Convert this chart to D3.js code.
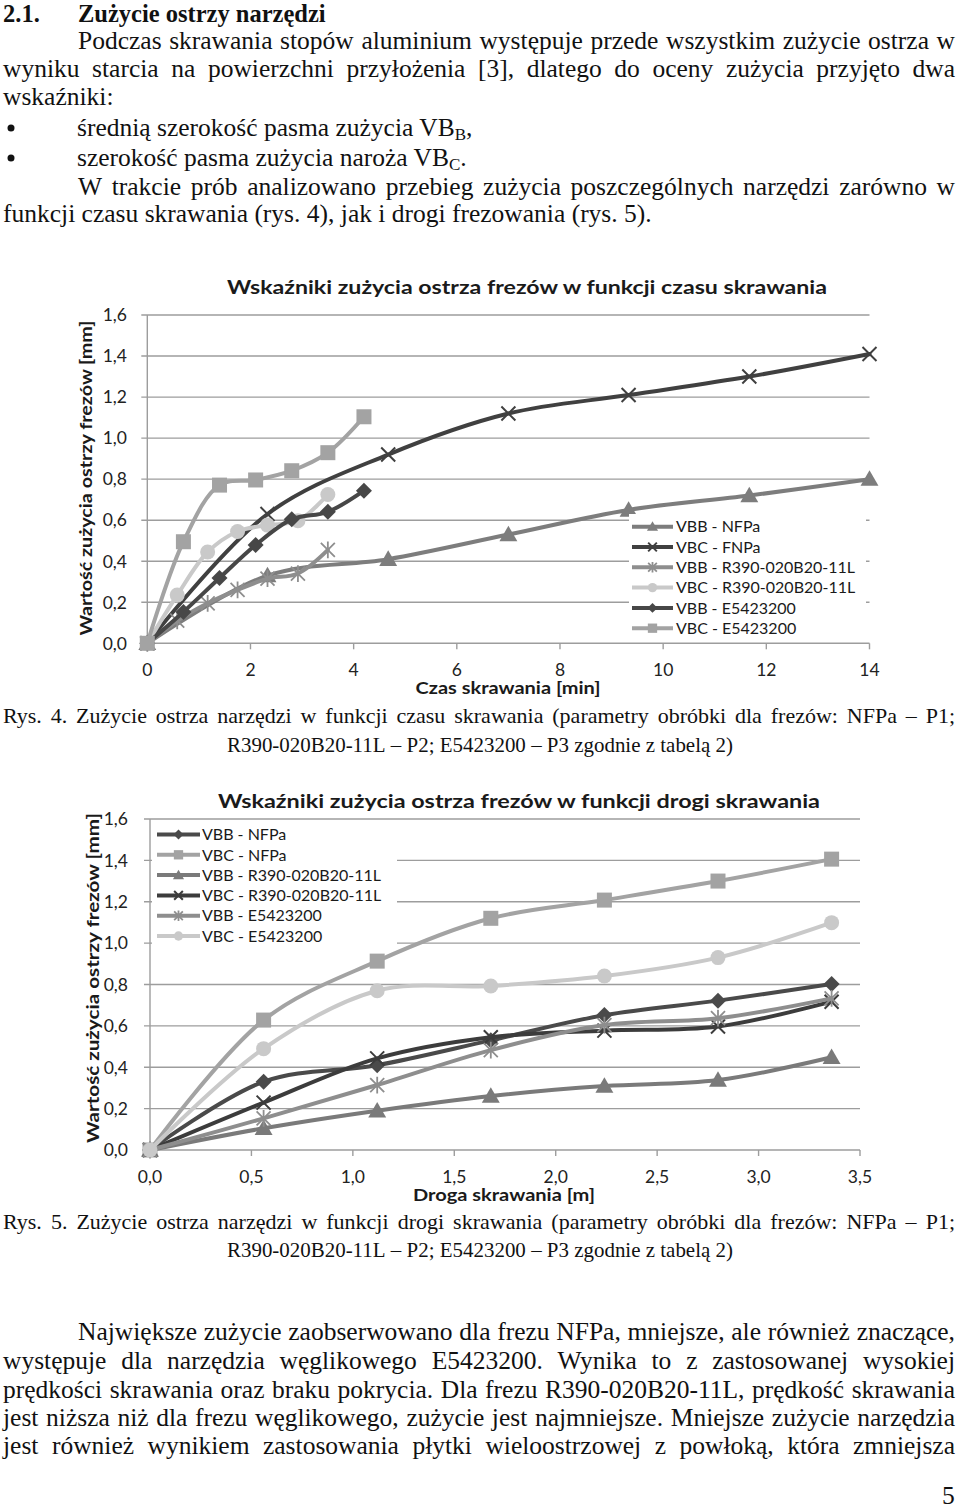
<!DOCTYPE html>
<html><head><meta charset="utf-8">
<script src="https://cdn.jsdelivr.net/npm/d3@7"></script>
<style>html,body{margin:0;padding:0;background:#fff}svg{display:block}</style>
</head><body>
<svg id="page" width="960" height="1509"></svg>
<script>
// ---------------- DATA ----------------
// Chart 1: wear vs cutting time [min]
const timeNFPa = [0, 2.33, 4.67, 7, 9.33, 11.67, 14];
const timeR390 = [0, 0.58, 1.17, 1.75, 2.33, 2.92, 3.5];
const timeE542 = [0, 0.7, 1.4, 2.1, 2.8, 3.5, 4.2];
const t_VBB_NFPa = [0, 0.33, 0.41, 0.53, 0.65, 0.72, 0.80];
const t_VBC_FNPa = [0, 0.63, 0.92, 1.12, 1.21, 1.30, 1.41];
const t_VBB_R390 = [0, 0.11, 0.195, 0.26, 0.315, 0.34, 0.455];
const t_VBC_R390 = [0, 0.235, 0.445, 0.545, 0.576, 0.597, 0.725];
const t_VBB_E542 = [0, 0.153, 0.318, 0.479, 0.604, 0.641, 0.744];
const t_VBC_E542 = [0, 0.495, 0.771, 0.796, 0.841, 0.929, 1.104];
const timeTicks = [0, 2, 4, 6, 8, 10, 12, 14];
const chart1Names = ["VBB - NFPa", "VBC - FNPa", "VBB - R390-020B20-11L", "VBC - R390-020B20-11L", "VBB - E5423200", "VBC - E5423200"];

// Chart 2: wear vs cutting distance [m]
const dist = [0, 0.56, 1.12, 1.68, 2.24, 2.80, 3.36];
const d_VBB_NFPa = [0, 0.33, 0.41, 0.53, 0.652, 0.722, 0.802];
const d_VBC_NFPa = [0, 0.628, 0.913, 1.12, 1.208, 1.30, 1.406];
const d_VBB_R390 = [0, 0.105, 0.19, 0.261, 0.309, 0.338, 0.448];
const d_VBC_R390 = [0, 0.229, 0.443, 0.545, 0.577, 0.597, 0.717];
const d_VBB_E542 = [0, 0.153, 0.314, 0.483, 0.604, 0.637, 0.733];
const d_VBC_E542 = [0, 0.49, 0.77, 0.793, 0.841, 0.93, 1.099];
const distTicks = [0, 0.5, 1.0, 1.5, 2.0, 2.5, 3.0, 3.5];
const chart2Names = ["VBB - NFPa", "VBC - NFPa", "VBB - R390-020B20-11L", "VBC - R390-020B20-11L", "VBB - E5423200", "VBC - E5423200"];

const wearTicks = [0, 0.2, 0.4, 0.6, 0.8, 1.0, 1.2, 1.4, 1.6];

// ---------------- TEXT HELPERS ----------------
const svg = d3.select("#page");
const SERIF = "'Liberation Serif','Times New Roman',serif";
const SANS = "Lato,'Open Sans',sans-serif";
const BODY = 25.5;
const CAP = 22;

function textLine(o) {
  const size = o.size || BODY;
  const g = svg.append("g");
  const words = o.t.split(" ");
  const items = words.map(w => {
    const t = g.append("text").attr("font-family", SERIF).attr("font-size", size)
      .attr("font-weight", o.bold ? "bold" : "normal").attr("fill", "#111").text(w);
    return {node: t, w: t.node().getComputedTextLength()};
  });
  const sum = d3.sum(items, d => d.w);
  const space = size * 0.25;
  let k = 1, gap = space, x0 = o.x0;
  if (o.mode === "justify") {
    const natural = sum + space * (items.length - 1);
    if (natural > o.x1 - o.x0) { k = (o.x1 - o.x0) / natural; }
    else gap = (o.x1 - o.x0 - sum) / Math.max(1, items.length - 1);
  } else if (o.mode === "fit") {
    k = (o.x1 - o.x0) / (sum + space * (items.length - 1));
  }
  g.attr("transform", `translate(${x0},${o.y}) scale(${k},1)`);
  let pos = 0;
  items.forEach(it => { it.node.attr("x", pos); pos += it.w + gap; });
}

// ---------------- BODY TEXT ----------------
textLine({t: "2.1.", x0: 3, y: 22, mode: "left", bold: true, size: 24.5});
textLine({t: "Zużycie ostrzy narzędzi", x0: 78, y: 22, mode: "left", bold: true, size: 24.5});
textLine({t: "Podczas skrawania stopów aluminium występuje przede wszystkim zużycie ostrza w", x0: 78, x1: 955, y: 49, mode: "justify"});
textLine({t: "wyniku starcia na powierzchni przyłożenia [3], dlatego do oceny zużycia przyjęto dwa", x0: 3, x1: 955, y: 77, mode: "justify"});
textLine({t: "wskaźniki:", x0: 3, y: 105, mode: "left"});

function bulletLine(main, sub, tail, y) {
  svg.append("circle").attr("cx", 11).attr("cy", y - 8).attr("r", 3.5).attr("fill", "#111");
  const t = svg.append("text").attr("x", 77).attr("y", y)
    .attr("font-family", SERIF).attr("font-size", BODY).attr("fill", "#111");
  t.append("tspan").text(main);
  t.append("tspan").attr("font-size", 17).attr("dy", 4).text(sub);
  t.append("tspan").attr("dy", -4).text(tail);
}
bulletLine("średnią szerokość pasma zużycia VB", "B", ",", 136);
bulletLine("szerokość pasma zużycia naroża VB", "C", ".", 166);
textLine({t: "W trakcie prób analizowano przebieg zużycia poszczególnych narzędzi zarówno w", x0: 78, x1: 955, y: 195, mode: "justify"});
textLine({t: "funkcji czasu skrawania (rys. 4), jak i drogi frezowania (rys. 5).", x0: 3, y: 222, mode: "left"});

textLine({t: "Rys. 4. Zużycie ostrza narzędzi w funkcji czasu skrawania (parametry obróbki dla frezów: NFPa – P1;", x0: 3, x1: 955, y: 723, mode: "justify", size: CAP});
textLine({t: "R390-020B20-11L – P2; E5423200 – P3 zgodnie z tabelą 2)", x0: 227, x1: 733, y: 752, mode: "fit", size: CAP});
textLine({t: "Rys. 5. Zużycie ostrza narzędzi w funkcji drogi skrawania (parametry obróbki dla frezów: NFPa – P1;", x0: 3, x1: 955, y: 1229, mode: "justify", size: CAP});
textLine({t: "R390-020B20-11L – P2; E5423200 – P3 zgodnie z tabelą 2)", x0: 227, x1: 733, y: 1257, mode: "fit", size: CAP});

textLine({t: "Największe zużycie zaobserwowano dla frezu NFPa, mniejsze, ale również znaczące,", x0: 78, x1: 955, y: 1340, mode: "justify"});
textLine({t: "występuje dla narzędzia węglikowego E5423200. Wynika to z zastosowanej wysokiej", x0: 3, x1: 955, y: 1369, mode: "justify"});
textLine({t: "prędkości skrawania oraz braku pokrycia. Dla frezu R390-020B20-11L, prędkość skrawania", x0: 3, x1: 955, y: 1398, mode: "justify"});
textLine({t: "jest niższa niż dla frezu węglikowego, zużycie jest najmniejsze. Mniejsze zużycie narzędzia", x0: 3, x1: 955, y: 1426, mode: "justify"});
textLine({t: "jest również wynikiem zastosowania płytki wieloostrzowej z powłoką, która zmniejsza", x0: 3, x1: 955, y: 1454, mode: "justify"});
textLine({t: "5", x0: 942, y: 1504, mode: "left"});

// ---------------- CHART HELPERS ----------------
const comma = d => d3.format(".1f")(d).replace(".", ",");

function marker(g, type, s, color) {
  const h = s / 2;
  if (type === "square") g.append("rect").attr("x", -h).attr("y", -h).attr("width", s).attr("height", s).attr("fill", color);
  else if (type === "circle") g.append("circle").attr("r", h).attr("fill", color);
  else if (type === "triangle") g.append("path").attr("d", `M0,${-s * 0.55}L${s * 0.56},${s * 0.42}L${-s * 0.56},${s * 0.42}Z`).attr("fill", color);
  else if (type === "diamond") g.append("path").attr("d", `M0,${-h}L${h},0L0,${h}L${-h},0Z`).attr("fill", color);
  else if (type === "x") g.append("path").attr("d", `M${-h},${-h}L${h},${h}M${h},${-h}L${-h},${h}`).attr("stroke", color).attr("stroke-width", 2).attr("fill", "none");
  else if (type === "star") g.append("path").attr("d", `M${-h},${-h}L${h},${h}M${h},${-h}L${-h},${h}M0,${-h * 1.2}L0,${h * 1.2}`).attr("stroke", color).attr("stroke-width", 1.8).attr("fill", "none");
}

function drawChart(c) {
  const g = svg.append("g");
  const x = d3.scaleLinear().domain(c.xDomain).range(c.xRange);
  const y = d3.scaleLinear().domain([0, 1.6]).range(c.yRange);
  const grid = "#9d9d9d";

  g.selectAll(".gl").data(wearTicks.slice(1)).join("line")
    .attr("x1", c.xRange[0] - 6).attr("x2", c.xRange[1])
    .attr("y1", d => y(d)).attr("y2", d => y(d))
    .attr("stroke", grid).attr("stroke-width", 1.4);
  g.append("line").attr("x1", c.xRange[0]).attr("x2", c.xRange[0]).attr("y1", c.yRange[0]).attr("y2", c.yRange[1]).attr("stroke", grid).attr("stroke-width", 1.4);
  g.append("line").attr("x1", c.xRange[0] - 6).attr("x2", c.xRange[1]).attr("y1", c.yRange[0]).attr("y2", c.yRange[0]).attr("stroke", grid).attr("stroke-width", 1.4);
  g.selectAll(".xt").data(c.xTicks).join("line")
    .attr("x1", d => x(d)).attr("x2", d => x(d)).attr("y1", c.yRange[0]).attr("y2", c.yRange[0] + 6)
    .attr("stroke", grid).attr("stroke-width", 1.4);

  g.selectAll(".yl").data(wearTicks).join("text")
    .attr("x", c.yLabelRight).attr("y", d => y(d)).attr("dy", "0.36em")
    .attr("text-anchor", "end").attr("font-family", SANS).attr("font-size", 17.5).attr("fill", "#222")
    .text(comma);
  g.selectAll(".xl").data(c.xTicks).join("text")
    .attr("x", d => x(d)).attr("y", c.xLabelY)
    .attr("text-anchor", "middle").attr("font-family", SANS).attr("font-size", 17.5).attr("fill", "#222")
    .text(c.xFormat);

  g.append("text").attr("x", c.title.cx).attr("y", c.title.y).attr("text-anchor", "middle")
    .attr("font-family", SANS).attr("font-weight", "bold").attr("font-size", 19.5).attr("fill", "#1a1a1a")
    .attr("textLength", c.title.w).attr("lengthAdjust", "spacingAndGlyphs").text(c.title.t);
  g.append("text").attr("transform", `translate(${c.yTitle.cx},${c.yTitle.cy}) rotate(-90)`)
    .attr("text-anchor", "middle").attr("dy", "0.35em")
    .attr("font-family", SANS).attr("font-weight", "bold").attr("font-size", 17.5).attr("fill", "#1a1a1a")
    .attr("textLength", c.yTitle.w).attr("lengthAdjust", "spacingAndGlyphs").text(c.yTitle.t);
  g.append("text").attr("x", c.xTitle.cx).attr("y", c.xTitle.y).attr("text-anchor", "middle")
    .attr("font-family", SANS).attr("font-weight", "bold").attr("font-size", 17).attr("fill", "#1a1a1a")
    .attr("textLength", c.xTitle.w).attr("lengthAdjust", "spacingAndGlyphs").text(c.xTitle.t);

  const line = d3.line().x(d => x(d[0])).y(d => y(d[1])).curve(d3.curveCatmullRom.alpha(0.5));
  c.series.forEach(s => {
    const pts = s.x.map((v, i) => [v, s.y[i]]);
    const sg = g.append("g");
    sg.append("path").attr("d", line(pts)).attr("fill", "none").attr("stroke", s.color)
      .attr("stroke-width", 4).attr("stroke-linejoin", "round").attr("stroke-linecap", "round");
    pts.forEach(p => {
      const mg = sg.append("g").attr("transform", `translate(${x(p[0])},${y(p[1])})`);
      marker(mg, s.marker, s.size, s.color);
    });
  });

  const L = c.legend;
  g.append("rect").attr("x", L.x).attr("y", L.y).attr("width", L.w).attr("height", L.h).attr("fill", "#fff");
  c.series.forEach((s, i) => {
    const yy = L.row0 + i * L.step;
    g.append("line").attr("x1", L.lx0).attr("x2", L.lx1).attr("y1", yy).attr("y2", yy)
      .attr("stroke", s.color).attr("stroke-width", 4);
    const mg = g.append("g").attr("transform", `translate(${(L.lx0 + L.lx1) / 2},${yy})`);
    marker(mg, s.marker, s.size * 0.62, s.color);
    g.append("text").attr("x", L.tx).attr("y", yy).attr("dy", "0.36em")
      .attr("font-family", SANS).attr("font-size", 16).attr("fill", "#1a1a1a").text(s.name);
  });
}

// ---------------- CHART 1 ----------------
const c1Styles = [
  {color: "#7d7d7d", marker: "triangle", size: 16},
  {color: "#404040", marker: "x", size: 14},
  {color: "#8e8e8e", marker: "star", size: 14},
  {color: "#c9c9c9", marker: "circle", size: 15},
  {color: "#474747", marker: "diamond", size: 16},
  {color: "#a3a3a3", marker: "square", size: 15}
];
const c1x = [timeNFPa, timeNFPa, timeR390, timeR390, timeE542, timeE542];
const c1y = [t_VBB_NFPa, t_VBC_FNPa, t_VBB_R390, t_VBC_R390, t_VBB_E542, t_VBC_E542];

drawChart({
  xDomain: [0, 14], xRange: [147.3, 869.5], yRange: [643.3, 315],
  xTicks: timeTicks, xFormat: d => d, yLabelRight: 127, xLabelY: 676,
  title: {t: "Wskaźniki zużycia ostrza frezów w funkcji czasu skrawania", cx: 527, y: 294, w: 600},
  yTitle: {t: "Wartość zużycia ostrzy frezów [mm]", cx: 86, cy: 478, w: 315},
  xTitle: {t: "Czas skrawania [min]", cx: 508, y: 694, w: 185},
  legend: {x: 629, y: 514, w: 237, h: 126, row0: 526.7, step: 20.3, lx0: 632, lx1: 673, tx: 676},
  series: chart1Names.map((n, i) => Object.assign({name: n, x: c1x[i], y: c1y[i]}, c1Styles[i]))
});

// ---------------- CHART 2 ----------------
const c2Styles = [
  {color: "#4a4a4a", marker: "diamond", size: 16},
  {color: "#a3a3a3", marker: "square", size: 15},
  {color: "#7a7a7a", marker: "triangle", size: 16},
  {color: "#3c3c3c", marker: "x", size: 14},
  {color: "#8e8e8e", marker: "star", size: 14},
  {color: "#c9c9c9", marker: "circle", size: 15}
];
const c2y = [d_VBB_NFPa, d_VBC_NFPa, d_VBB_R390, d_VBC_R390, d_VBB_E542, d_VBC_E542];

drawChart({
  xDomain: [0, 3.5], xRange: [150, 860], yRange: [1150, 819],
  xTicks: distTicks, xFormat: comma, yLabelRight: 128, xLabelY: 1183,
  title: {t: "Wskaźniki zużycia ostrza frezów w funkcji drogi skrawania", cx: 519, y: 808, w: 602},
  yTitle: {t: "Wartość zużycia ostrzy frezów [mm]", cx: 93, cy: 978, w: 330},
  xTitle: {t: "Droga skrawania [m]", cx: 504, y: 1201, w: 182},
  legend: {x: 152, y: 822, w: 245, h: 124, row0: 834.5, step: 20.3, lx0: 157, lx1: 200, tx: 202},
  series: chart2Names.map((n, i) => Object.assign({name: n, x: dist, y: c2y[i]}, c2Styles[i]))
});
</script>
</body></html>
